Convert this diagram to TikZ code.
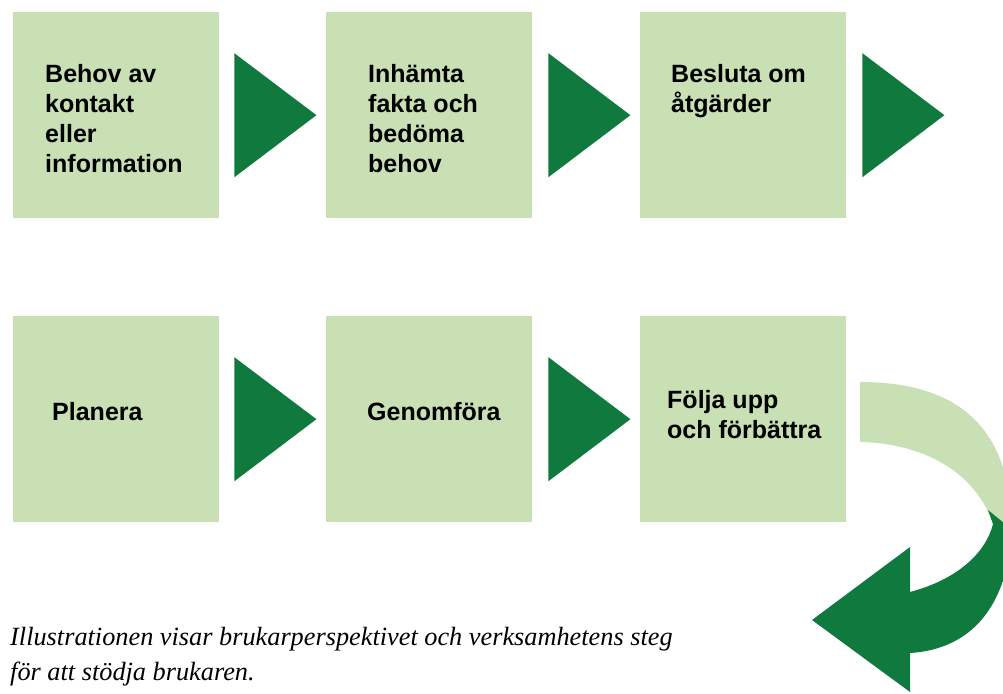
\documentclass[tikz,border=0pt]{standalone}
\usepackage{fontspec}
\setmainfont{Liberation Serif}
\setsansfont{Liberation Sans}
\usepackage{tikz}
\definecolor{boxgreen}{RGB}{201,224,180}
\definecolor{arrowgreen}{RGB}{16,122,62}
\tikzset{
  stepbox/.style={fill=boxgreen, minimum width=206pt, minimum height=206pt,
    inner sep=0pt, anchor=north west},
  steptext/.style={font=\sffamily\bfseries\fontsize{25}{30}\selectfont,
    align=left, inner sep=0pt, anchor=north west},
  captext/.style={font=\itshape\fontsize{26.3}{35}\selectfont,
    align=left, inner sep=0pt, anchor=north west},
}

\begin{document}
\begin{tikzpicture}[x=1pt,y=1pt]
  \useasboundingbox (0,0) rectangle (1003,-693);
  % first row
  \node[stepbox] (b1) at (13,-12) {};
  \node[stepbox] (b2) at (326,-12) {};
  \node[stepbox] (b3) at (640,-12) {};
  \node[steptext] (t1) at ([shift={(32,-52)}]b1.north west) {Behov av\\kontakt\\eller\\information};
  \node[steptext] (t2) at ([shift={(42,-52)}]b2.north west) {Inhämta\\fakta och\\bedöma\\behov};
  \node[steptext] (t3) at ([shift={(31,-52)}]b3.north west) {Besluta om\\åtgärder};
  \fill[arrowgreen] ([xshift=15]b1.east) ++(0,62) -- ++(82,-62) -- ++(-82,-62) -- cycle;
  \fill[arrowgreen] ([xshift=16]b2.east) ++(0,62) -- ++(82,-62) -- ++(-82,-62) -- cycle;
  \fill[arrowgreen] ([xshift=16]b3.east) ++(0,62) -- ++(82,-62) -- ++(-82,-62) -- cycle;
  % second row
  \node[stepbox] (b4) at (13,-316) {};
  \node[stepbox] (b5) at (326,-316) {};
  \node[stepbox] (b6) at (640,-316) {};
  \node[steptext] (t4) at ([shift={(39,-86)}]b4.north west) {Planera};
  \node[steptext] (t5) at ([shift={(41,-86)}]b5.north west) {Genomföra};
  \node[steptext] (t6) at ([shift={(27,-74)}]b6.north west) {Följa upp\\och förbättra};
  \fill[arrowgreen] ([xshift=15]b4.east) ++(0,62) -- ++(82,-62) -- ++(-82,-62) -- cycle;
  \fill[arrowgreen] ([xshift=16]b5.east) ++(0,62) -- ++(82,-62) -- ++(-82,-62) -- cycle;
  % curved arrow back
  \fill[boxgreen] (860,-382) .. controls (950,-382) and (1000,-420) .. (1010,-500)
    -- (1010,-535) -- (993,-524) .. controls (975,-470) and (920,-443) .. (860,-442) -- cycle;
  \fill[arrowgreen] (988,-510) -- (1010,-528) -- (1010,-550)
    .. controls (1000,-620) and (960,-650) .. (910,-653)
    -- (910,-692) -- (812,-620) -- (910,-547) -- (910,-592)
    .. controls (955,-580) and (985,-555) .. (993,-524) -- cycle;
  % caption
  \node[captext] (cap) at (10,-627) {Illustrationen visar brukarperspektivet och verksamhetens steg\\för att stödja brukaren.};
\end{tikzpicture}
\end{document}
